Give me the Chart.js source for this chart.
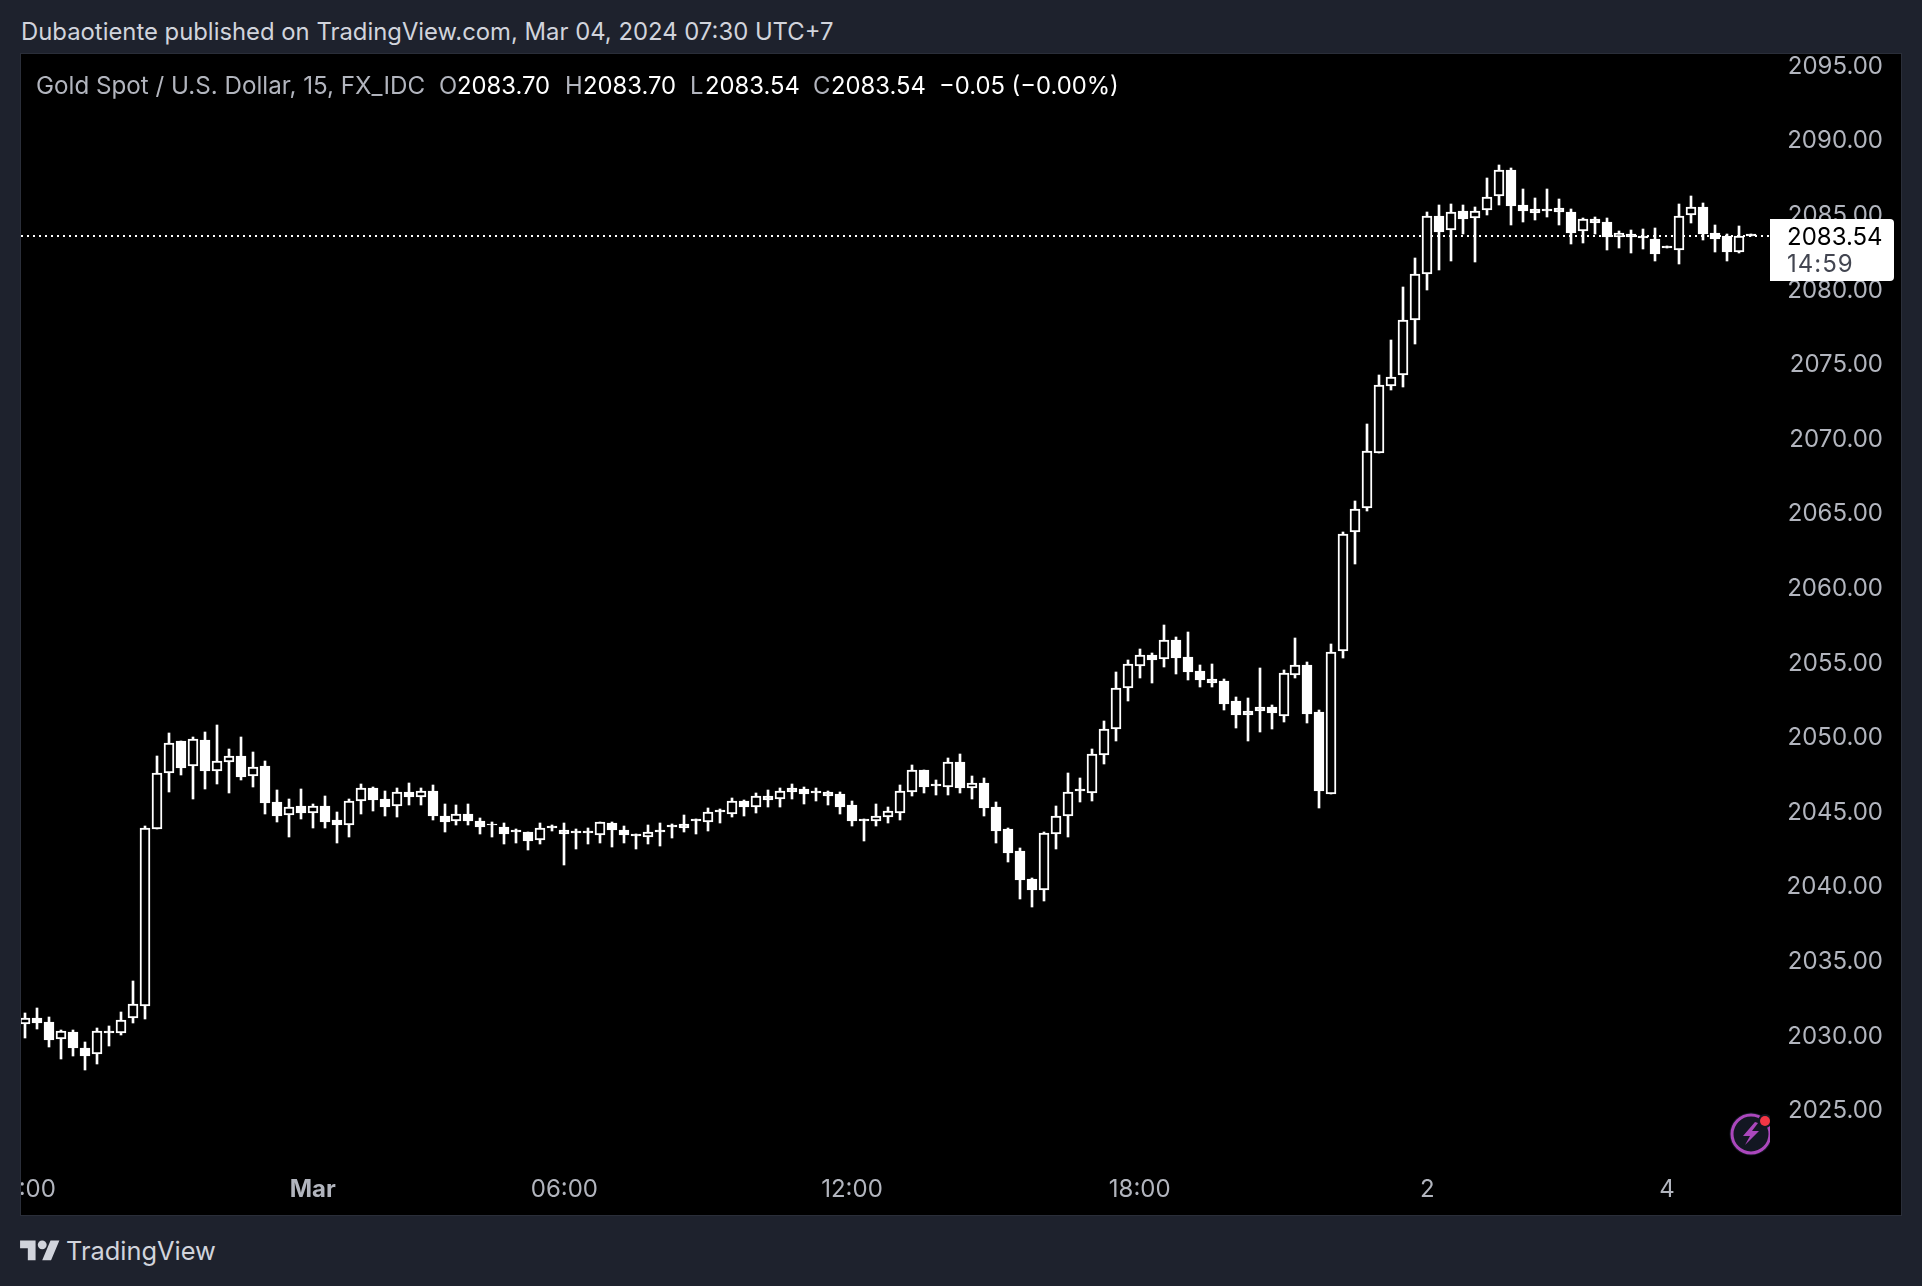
<!DOCTYPE html>
<html>
<head>
<meta charset="utf-8">
<title>Gold Spot / U.S. Dollar</title>
<script src="https://cdn.jsdelivr.net/npm/chart.js@4"></script>
<style>
  html, body { margin: 0; background: #1e222d; }
  body { width: 1922px; height: 1286px; position: relative; overflow: hidden; font-family: Inter, "Noto Sans", sans-serif; }
  .txt { position: absolute; white-space: pre; line-height: 30px; }
  #head { left: 21px; top: 17px; font-size: 23.85px; color: #d1d4dc; }
  #panel { position: absolute; left: 20px; top: 53px; width: 1882px; height: 1163px; box-sizing: border-box; border: 1px solid #2a2e39; background: #000; }
  #chart { position: absolute; left: 21px; top: 54px; }
  .leg { top: 71px; font-size: 23.8px; color: #fff; }
  .grey { color: #b2b5be; }
  #brand { left: 66px; top: 1236px; font-size: 25.4px; color: #d1d4dc; }
  #logo { position: absolute; left: 20px; top: 1236px; }
  #bolt { position: absolute; left: 1728px; top: 1110px; }
</style>
</head>
<body>
<div id="head" class="txt">Dubaotiente published on TradingView.com, Mar 04, 2024 07:30 UTC+7</div>
<div id="panel"></div>
<canvas id="chart" width="1880" height="1161"></canvas>

<div class="txt leg grey" style="left:36px;font-size:24.2px">Gold Spot / U.S. Dollar, 15, FX_IDC</div>
<div class="txt leg grey" style="left:439px">O</div><div class="txt leg" style="left:457px">2083.70</div>
<div class="txt leg grey" style="left:565px">H</div><div class="txt leg" style="left:583px">2083.70</div>
<div class="txt leg grey" style="left:690px">L</div><div class="txt leg" style="left:705px">2083.54</div>
<div class="txt leg grey" style="left:813px">C</div><div class="txt leg" style="left:831px">2083.54</div>
<div class="txt leg" style="left:939px">−0.05 (−0.00%)</div>

<svg id="bolt" width="42" height="48" viewBox="0 0 42 48">
  <circle cx="23" cy="24" r="21.5" fill="#131722"/>
  <circle cx="23" cy="24" r="19" fill="#131722" stroke="#ab47bc" stroke-width="3"/>
  <path d="M27 12 L15 26 L22 26 L17 35 L31 21 L24 21 L30 13 Z" fill="#ab47bc"/>
  <circle cx="37" cy="11" r="7" fill="#131722"/>
  <circle cx="37" cy="11" r="5" fill="#f23645"/>
</svg>

<svg id="logo" width="40" height="31" viewBox="0 0 36 28" fill="#d1d4dc">
  <path d="M14 22H7V11H0V4h14v18zM28 22h-8l7.5-18h8L28 22z"/>
  <circle cx="20" cy="8" r="4"/>
</svg>
<div id="brand" class="txt">TradingView</div>

<script>
// 15 min candles
const opens = [
  2030.70, 2031.11, 2030.86, 2029.70, 2030.19, 2029.12, 2028.69, 2030.23, 2030.14, 2031.11,
  2031.91, 2043.77, 2047.53, 2049.67, 2047.99, 2049.74, 2047.66, 2048.26, 2048.66, 2047.32,
  2048.02, 2045.58, 2044.71, 2045.31, 2044.84, 2045.31, 2044.38, 2044.04, 2045.65, 2046.52,
  2045.78, 2045.31, 2046.27, 2045.96, 2046.34, 2044.67, 2044.33, 2044.80, 2044.33, 2044.13,
  2043.93, 2043.73, 2043.59, 2043.06, 2044.00, 2043.73, 2043.66, 2043.66, 2043.39, 2044.20,
  2043.73, 2043.46, 2043.26, 2043.73, 2044.06, 2044.13, 2044.47, 2044.26, 2045.07, 2044.80,
  2045.67, 2045.27, 2046.01, 2045.81, 2046.54, 2046.48, 2046.34, 2046.27, 2046.14, 2045.40,
  2044.47, 2044.33, 2044.60, 2044.87, 2046.27, 2047.75, 2046.81, 2046.61, 2048.29, 2046.54,
  2046.88, 2045.27, 2043.80, 2042.32, 2040.44, 2039.71, 2043.46, 2044.67, 2046.48, 2046.21,
  2048.75, 2050.49, 2053.24, 2054.72, 2055.45, 2055.19, 2056.46, 2055.32, 2054.38, 2053.85,
  2053.71, 2052.37, 2051.70, 2051.97, 2051.97, 2051.37, 2054.11, 2054.78, 2051.63, 2046.14,
  2055.74, 2063.67, 2065.33, 2069.02, 2073.46, 2074.19, 2077.88, 2081.01, 2084.88, 2083.92,
  2085.21, 2084.76, 2085.26, 2086.22, 2087.96, 2085.61, 2085.35, 2085.35, 2085.41, 2085.14,
  2083.85, 2084.68, 2084.47, 2083.47, 2083.67, 2083.54, 2083.34, 2082.87, 2082.62, 2084.92,
  2085.48, 2083.74, 2083.54, 2082.46, 2083.70
];
const highs = [
  2031.44, 2031.78, 2031.17, 2030.32, 2030.32, 2029.52, 2030.44, 2030.57, 2031.51, 2033.59,
  2043.97, 2048.66, 2050.21, 2049.67, 2049.94, 2050.27, 2050.74, 2049.13, 2049.94, 2048.93,
  2048.33, 2046.39, 2045.78, 2046.45, 2045.45, 2045.98, 2044.91, 2045.78, 2046.79, 2046.59,
  2046.32, 2046.52, 2046.86, 2046.52, 2046.72, 2045.45, 2045.38, 2045.45, 2044.51, 2044.24,
  2044.17, 2043.77, 2043.59, 2044.17, 2044.06, 2044.17, 2043.77, 2043.84, 2044.26, 2044.26,
  2044.00, 2043.46, 2044.06, 2044.20, 2044.13, 2044.73, 2044.47, 2045.20, 2045.14, 2045.87,
  2045.74, 2046.21, 2046.41, 2046.54, 2046.81, 2046.61, 2046.54, 2046.34, 2046.27, 2045.67,
  2044.47, 2045.47, 2045.27, 2046.74, 2048.08, 2047.75, 2047.08, 2048.55, 2048.82, 2047.35,
  2047.21, 2045.60, 2043.86, 2042.52, 2040.51, 2043.59, 2045.34, 2047.55, 2047.21, 2049.16,
  2051.03, 2054.31, 2055.12, 2055.86, 2055.59, 2057.46, 2056.66, 2057.00, 2054.78, 2054.85,
  2053.85, 2052.64, 2052.57, 2054.58, 2052.10, 2054.45, 2056.59, 2054.98, 2051.77, 2056.19,
  2063.73, 2065.79, 2070.93, 2074.22, 2076.57, 2080.12, 2082.06, 2085.14, 2085.59, 2085.66,
  2085.59, 2085.46, 2087.42, 2088.29, 2088.07, 2086.66, 2086.08, 2086.66, 2085.99, 2085.32,
  2084.74, 2084.81, 2084.74, 2083.87, 2083.94, 2084.01, 2084.07, 2082.87, 2085.68, 2086.22,
  2085.75, 2084.27, 2083.67, 2084.21, 2083.70
];
const lows = [
  2029.81, 2030.41, 2029.21, 2028.40, 2028.60, 2027.66, 2028.07, 2029.27, 2030.01, 2030.81,
  2031.08, 2043.77, 2046.30, 2047.44, 2045.83, 2046.50, 2046.83, 2046.23, 2047.10, 2046.63,
  2044.82, 2044.29, 2043.28, 2044.49, 2043.88, 2043.88, 2042.88, 2043.28, 2044.82, 2045.02,
  2044.69, 2044.62, 2045.40, 2045.40, 2044.40, 2043.59, 2044.06, 2044.06, 2043.46, 2043.26,
  2042.79, 2042.86, 2042.39, 2042.79, 2043.66, 2041.38, 2042.45, 2042.79, 2042.86, 2042.59,
  2042.86, 2042.45, 2042.79, 2042.66, 2043.19, 2043.59, 2043.46, 2043.66, 2044.20, 2044.60,
  2044.67, 2044.87, 2045.27, 2045.27, 2045.81, 2045.47, 2045.67, 2045.40, 2044.80, 2044.00,
  2042.99, 2044.00, 2044.20, 2044.40, 2046.01, 2046.21, 2046.07, 2046.07, 2046.21, 2045.81,
  2044.67, 2042.86, 2041.58, 2039.10, 2038.57, 2038.97, 2042.45, 2043.26, 2045.60, 2045.67,
  2048.15, 2049.69, 2052.37, 2053.91, 2053.58, 2054.65, 2054.18, 2053.78, 2053.31, 2053.31,
  2051.77, 2050.56, 2049.69, 2050.29, 2050.49, 2050.96, 2053.91, 2050.90, 2045.20, 2046.14,
  2055.27, 2061.55, 2065.12, 2069.02, 2073.23, 2073.43, 2076.31, 2079.92, 2081.26, 2081.86,
  2083.67, 2081.79, 2084.94, 2085.61, 2084.27, 2084.47, 2084.61, 2084.81, 2084.27, 2083.00,
  2083.07, 2083.67, 2082.60, 2082.73, 2082.40, 2082.67, 2081.86, 2082.73, 2081.66, 2084.41,
  2083.27, 2082.46, 2081.86, 2082.40, 2083.54
];
const closes = [
  2031.11, 2030.79, 2029.68, 2030.26, 2029.14, 2028.60, 2030.23, 2030.14, 2030.97, 2032.04,
  2043.84, 2047.53, 2049.54, 2047.90, 2049.80, 2047.70, 2048.33, 2048.66, 2047.30, 2047.93,
  2045.56, 2044.69, 2045.25, 2044.89, 2045.31, 2044.29, 2044.08, 2045.65, 2046.52, 2045.76,
  2045.29, 2046.25, 2045.94, 2046.34, 2044.67, 2044.26, 2044.78, 2044.33, 2043.93, 2044.04,
  2043.46, 2043.59, 2042.99, 2043.84, 2043.86, 2043.46, 2043.53, 2043.53, 2044.26, 2043.73,
  2043.39, 2043.33, 2043.59, 2043.59, 2043.93, 2043.86, 2044.33, 2044.93, 2044.93, 2045.67,
  2045.27, 2045.98, 2045.74, 2046.34, 2046.27, 2046.14, 2046.21, 2046.01, 2045.27, 2044.33,
  2044.33, 2044.67, 2045.00, 2046.34, 2047.75, 2046.61, 2046.68, 2048.29, 2046.54, 2046.88,
  2045.20, 2043.66, 2042.19, 2040.38, 2039.71, 2043.53, 2044.67, 2046.27, 2046.34, 2048.82,
  2050.49, 2053.24, 2054.85, 2055.45, 2055.12, 2056.46, 2055.25, 2054.31, 2053.78, 2053.58,
  2052.17, 2051.43, 2051.43, 2051.70, 2051.57, 2054.25, 2054.78, 2051.50, 2046.34, 2055.65,
  2063.58, 2065.27, 2069.16, 2073.52, 2074.07, 2077.88, 2081.02, 2084.88, 2083.80, 2085.12,
  2084.68, 2085.21, 2086.17, 2087.94, 2085.55, 2085.21, 2085.08, 2085.21, 2085.14, 2083.74,
  2084.68, 2084.41, 2083.47, 2083.71, 2083.47, 2083.40, 2082.33, 2082.73, 2084.90, 2085.50,
  2083.67, 2083.34, 2082.46, 2083.54, 2083.54
];

const lastPrice = 2083.54;
const countdown = '14:59';
const priceTicks = [2095, 2090, 2085, 2080, 2075, 2070, 2065, 2060, 2055, 2050, 2045, 2040, 2035, 2030, 2025];
const timeTickIndex = [0, 24, 45, 69, 93, 117, 137];
const timeTickLabels = ['18:00', 'Mar', '06:00', '12:00', '18:00', '2', '4'];

const fontFamily = 'Inter, "Noto Sans", sans-serif';
const xMin = -0.334, xMax = 145.59;
const yMin = 2021.61, yMax = 2095.737;

// bars come out on fractional pixels, the original is crisp
const snapBars = {
  id: 'snapBars',
  beforeDatasetsDraw(chart) {
    chart.data.datasets.forEach((ds, i) => {
      if (ds.type === 'line') return;
      chart.getDatasetMeta(i).data.forEach(el => {
        el.x = Math.round(el.x);
        el.y = Math.round(el.y);
        el.base = Math.round(el.base);
      });
    });
  }
};

// white price label on the right
const priceTag = {
  id: 'priceTag',
  afterDraw(chart) {
    const ctx = chart.ctx;
    const y = Math.round(chart.scales.y.getPixelForValue(lastPrice));
    const left = chart.chartArea.right;
    ctx.save();
    ctx.fillStyle = '#fff';
    ctx.beginPath();
    ctx.roundRect(left, y - 17, 124, 62, [0, 4, 4, 0]);
    ctx.fill();
    ctx.textBaseline = 'middle';
    ctx.textAlign = 'left';
    ctx.font = '24px ' + fontFamily;
    ctx.fillStyle = '#000';
    ctx.fillText(lastPrice.toFixed(2), left + 17, y + 2);
    ctx.fillStyle = '#434651';
    ctx.letterSpacing = '1px';
    ctx.fillText(countdown, left + 17, y + 29);
    ctx.restore();
  }
};

new Chart(document.getElementById('chart'), {
  type: 'bar',
  data: {
    datasets: [
      {
        label: 'body',
        data: opens.map((o, i) => ({ x: i, y: [o, closes[i]] })),
        barThickness: 10,
        grouped: false,
        order: 1,
        borderWidth: 2,
        borderSkipped: false,
        borderColor: '#fff',
        backgroundColor: ctx => (closes[ctx.dataIndex] >= opens[ctx.dataIndex] ? '#000' : '#fff')
      },
      {
        label: 'wick',
        data: lows.map((l, i) => ({ x: i, y: [l, highs[i]] })),
        barThickness: 2,
        grouped: false,
        order: 2,
        borderWidth: 0,
        backgroundColor: '#fff'
      },
      {
        type: 'line',
        label: 'last',
        data: [{ x: xMin, y: lastPrice }, { x: xMax, y: lastPrice }],
        order: 3,
        borderColor: '#fff',
        borderWidth: 2,
        borderDash: [2, 4],
        pointRadius: 0
      }
    ]
  },
  options: {
    responsive: false,
    animation: false,
    layout: { padding: { right: 18 } },
    plugins: { legend: { display: false }, tooltip: { enabled: false } },
    scales: {
      x: {
        type: 'linear',
        offset: false,
        min: xMin,
        max: xMax,
        grid: { display: false, drawTicks: false },
        border: { display: false },
        afterBuildTicks: axis => { axis.ticks = timeTickIndex.map(v => ({ value: v })); },
        afterFit: axis => { axis.height = 55; axis.paddingLeft = 0; axis.paddingRight = 0; },
        ticks: {
          autoSkip: false,
          maxRotation: 0,
          includeBounds: false,
          padding: 15,
          color: '#b2b5be',
          font: ctx => ({
            family: fontFamily,
            size: 24,
            weight: timeTickLabels[timeTickIndex.indexOf(ctx.tick ? ctx.tick.value : -1)] === 'Mar' ? '700' : '400'
          }),
          callback: v => timeTickLabels[timeTickIndex.indexOf(v)]
        }
      },
      y: {
        position: 'right',
        min: yMin,
        max: yMax,
        grid: { display: false, drawTicks: false },
        border: { display: false },
        afterBuildTicks: axis => { axis.ticks = priceTicks.map(v => ({ value: v })); },
        afterFit: axis => { axis.width = 113; axis.paddingTop = 0; axis.paddingBottom = 0; },
        ticks: {
          includeBounds: false,
          padding: 0,
          labelOffset: 1.5,
          crossAlign: 'far',
          color: '#b2b5be',
          font: { family: fontFamily, size: 24 },
          callback: v => v.toFixed(2)
        }
      }
    }
  },
  plugins: [snapBars, priceTag]
});
</script>
</body>
</html>
